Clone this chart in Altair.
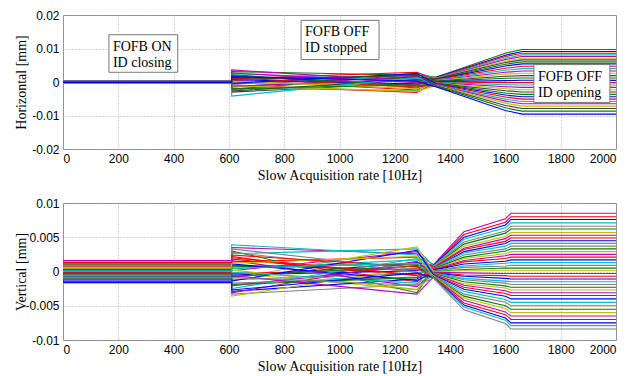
import altair as alt
import pandas as pd

# ---------------- axes ----------------
x_ticks = [0, 200, 400, 600, 800, 1000, 1200, 1400, 1600, 1800, 2000]
h_ticks = [-0.02, -0.01, 0, 0.01, 0.02]
v_ticks = [-0.01, -0.005, 0, 0.005, 0.01]
x_title = "Slow Acquisition rate [10Hz]"

# ---------------- Horizontal panel (30 BPMs) ----------------
# sample index at which each column of values is read
h_x = [0, 610, 610, 1280, 1350, 1600, 1660, 2000]
h_pre = [0.0002, -0.0001, 0.0003, 0.0000, -0.0002, 0.0001, -0.0003, 0.0002, 0.0000, -0.0001,
         0.0001, 0.0003, -0.0002, 0.0000, 0.0002, -0.0001, 0.0001, -0.0003, 0.0000, 0.0002,
         -0.0002, 0.0001, 0.0000, -0.0001, 0.0003, 0.0002, -0.0002, 0.0000, 0.0001, -0.0001]
h_band_a = [0.0031, -0.0012, 0.0005, -0.0025, 0.0017, 0.0001, -0.0030, 0.0022, -0.0006, 0.0010,
            -0.0018, 0.0036, -0.0002, 0.0014, -0.0022, 0.0007, -0.0009, 0.0025, -0.0015, 0.0003,
            -0.0027, 0.0019, -0.0004, 0.0012, -0.0042, 0.0027, -0.0011, 0.0008, -0.0020, 0.0016]
h_band_c = [0.0020, 0.0006, -0.0024, 0.0027, -0.0009, 0.0012, -0.0003, -0.0018, 0.0015, 0.0029,
            -0.0026, 0.0001, -0.0013, 0.0009, 0.0023, -0.0006, -0.0031, 0.0004, 0.0017, -0.0020,
            0.0007, -0.0011, 0.0025, -0.0015, 0.0013, -0.0002, -0.0028, 0.0019, -0.0008, 0.0003]
h_pinch = [0.0015, 0.0014, 0.0013, 0.0012, 0.0011, 0.0011, 0.0010, 0.0009, 0.0008, 0.0007,
           0.0006, 0.0005, 0.0004, 0.0003, 0.0002, 0.0001, 0.0000, -0.0001, -0.0002, -0.0003,
           -0.0004, -0.0005, -0.0006, -0.0007, -0.0008, -0.0009, -0.0010, -0.0011, -0.0013, -0.0015]
h_1600 = [0.0086, 0.0080, 0.0076, 0.0071, 0.0067, 0.0062, 0.0058, 0.0053, 0.0048, 0.0041,
          0.0035, 0.0029, 0.0023, 0.0017, 0.0011, 0.0004, -0.0002, -0.0008, -0.0014, -0.0020,
          -0.0026, -0.0033, -0.0039, -0.0045, -0.0051, -0.0057, -0.0063, -0.0070, -0.0077, -0.0085]
h_final = [0.0097, 0.0091, 0.0086, 0.0081, 0.0076, 0.0071, 0.0066, 0.0060, 0.0054, 0.0047,
           0.0040, 0.0033, 0.0026, 0.0019, 0.0012, 0.0005, -0.0002, -0.0009, -0.0016, -0.0023,
           -0.0030, -0.0037, -0.0044, -0.0051, -0.0058, -0.0065, -0.0072, -0.0079, -0.0087, -0.0096]
h_cols = [h_pre, h_pre, h_band_a, h_band_c, h_pinch, h_1600, h_final, h_final]

# ---------------- Vertical panel (40 BPMs) ----------------
v_x = [0, 610, 610, 1280, 1340, 1450, 1600, 1620, 2000]
v_pre = [0.0016, 0.0012, -0.0003, 0.0009, -0.0008, 0.0005, 0.0000, -0.0012, 0.0007, -0.0014,
         0.0003, -0.0005, 0.0010, -0.0017, 0.0001, 0.0006, -0.0002, 0.0014, -0.0010, 0.0004,
         -0.0006, 0.0008, -0.0001, 0.0002, -0.0009, 0.0011, -0.0004, 0.0005, -0.0015, 0.0003,
         -0.0007, 0.0000, 0.0009, -0.0011, 0.0006, -0.0003, 0.0013, -0.0016, 0.0001, -0.0008]
v_band_a = [0.0035, 0.0018, -0.0008, 0.0026, -0.0033, 0.0009, -0.0002, -0.0021, 0.0014, -0.0029,
            0.0004, -0.0012, 0.0030, -0.0036, 0.0001, 0.0022, -0.0005, 0.0039, -0.0017, 0.0007,
            -0.0010, 0.0016, -0.0003, 0.0011, -0.0025, 0.0028, -0.0007, 0.0002, -0.0031, 0.0020,
            -0.0014, -0.0001, 0.0033, -0.0019, 0.0012, -0.0006, 0.0024, -0.0027, 0.0005, -0.0009]
v_band_c = [0.0026, -0.0006, 0.0013, 0.0033, -0.0019, 0.0002, -0.0027, 0.0009, 0.0021, -0.0011,
            0.0017, -0.0003, -0.0031, 0.0006, 0.0029, -0.0015, 0.0001, 0.0024, -0.0008, 0.0011,
            0.0036, -0.0022, 0.0004, -0.0013, 0.0019, -0.0001, 0.0008, -0.0026, 0.0015, -0.0005,
            0.0031, -0.0017, 0.0003, -0.0009, 0.0022, -0.0033, 0.0007, -0.0002, 0.0012, -0.0020]
v_pinch = [0.0010, 0.0009, 0.0009, 0.0008, 0.0008, 0.0007, 0.0007, 0.0006, 0.0006, 0.0005,
           0.0005, 0.0004, 0.0004, 0.0003, 0.0003, 0.0002, 0.0002, 0.0001, 0.0001, 0.0000,
           0.0000, -0.0001, -0.0001, -0.0002, -0.0002, -0.0003, -0.0003, -0.0004, -0.0004, -0.0005,
           -0.0005, -0.0006, -0.0006, -0.0007, -0.0007, -0.0008, -0.0008, -0.0009, -0.0009, -0.0010]
v_1450 = [0.0058, 0.0054, 0.0050, 0.0047, 0.0043, 0.0040, 0.0037, 0.0034, 0.0032, 0.0029,
          0.0027, 0.0024, 0.0021, 0.0019, 0.0016, 0.0014, 0.0011, 0.0008, 0.0006, 0.0003,
          0.0001, -0.0002, -0.0005, -0.0007, -0.0010, -0.0012, -0.0015, -0.0018, -0.0020, -0.0023,
          -0.0026, -0.0029, -0.0033, -0.0036, -0.0039, -0.0042, -0.0046, -0.0049, -0.0052, -0.0056]
v_1600 = [0.0077, 0.0072, 0.0068, 0.0064, 0.0059, 0.0056, 0.0051, 0.0048, 0.0044, 0.0041,
          0.0037, 0.0033, 0.0030, 0.0026, 0.0023, 0.0019, 0.0015, 0.0012, 0.0008, 0.0005,
          0.0001, -0.0003, -0.0006, -0.0010, -0.0014, -0.0017, -0.0021, -0.0024, -0.0028, -0.0032,
          -0.0036, -0.0041, -0.0045, -0.0050, -0.0054, -0.0059, -0.0063, -0.0068, -0.0071, -0.0076]
v_final = [0.0085, 0.0080, 0.0076, 0.0071, 0.0066, 0.0062, 0.0057, 0.0053, 0.0049, 0.0045,
           0.0041, 0.0037, 0.0033, 0.0029, 0.0025, 0.0021, 0.0017, 0.0013, 0.0009, 0.0005,
           0.0001, -0.0003, -0.0007, -0.0011, -0.0015, -0.0019, -0.0023, -0.0027, -0.0031, -0.0035,
           -0.0040, -0.0045, -0.0050, -0.0055, -0.0060, -0.0065, -0.0070, -0.0075, -0.0079, -0.0084]
v_cols = [v_pre, v_pre, v_band_a, v_band_c, v_pinch, v_1450, v_1600, v_final, v_final]

# ---------------- annotations (top panel) ----------------
box_x1 = [166, 861, 1703]
box_x2 = [415, 1143, 1978]
box_y1 = [0.0029, 0.0067, -0.0061]
box_y2 = [0.0141, 0.0184, 0.0052]
box_text = ["FOFB ON\nID closing", "FOFB OFF\nID stopped", "FOFB OFF\nID opening"]

# MATLAB-like line colours
top_colors = ["#008000", "#0000ff", "#ff0000", "#00bfbf", "#bf00bf", "#bfbf00", "#404040"]
bot_colors = ["#bf00bf", "#ff0000", "#0000ff", "#00bfbf", "#808080", "#008000", "#bfbf00"]


def build(xs, cols):
    n = len(cols[0])
    rows = []
    for i in range(n):
        for k, (xv, col) in enumerate(zip(xs, cols)):
            rows.append({"trace": i, "k": k, "x": xv, "y": col[i]})
    return pd.DataFrame(rows), n


W = 553
SERIF = "Liberation Serif"
SANS = "Liberation Sans"


def panel(df, n, ticks, dom, ytitle, colors, H, boxes=None):
    xscale = alt.Scale(domain=[0, 2000], nice=False)
    yscale = alt.Scale(domain=dom, nice=False, zero=False)
    xaxis = alt.Axis(values=x_ticks, title=x_title, format="d", titlePadding=4)
    yaxis = alt.Axis(values=ticks, title=ytitle, labelExpr="toString(datum.value)",
                     titleX=-38, titleY=H / 2, titleBaseline="alphabetic")
    lines = alt.Chart(df).mark_line(strokeWidth=1.1, clip=True).encode(
        x=alt.X("x:Q", scale=xscale, axis=xaxis),
        y=alt.Y("y:Q", scale=yscale, axis=yaxis),
        color=alt.Color("trace:N", scale=alt.Scale(domain=list(range(n)), range=colors), legend=None),
        detail="trace:N",
        order="k:Q",
    )
    layers = [lines]
    if boxes is not None:
        rect = alt.Chart(boxes).mark_rect(fill="white", stroke="#777777", strokeWidth=1).encode(
            x=alt.X("x1:Q", scale=xscale, axis=xaxis), x2="x2:Q",
            y=alt.Y("y1:Q", scale=yscale, axis=yaxis), y2="y2:Q")
        txt = alt.Chart(boxes).mark_text(font=SERIF, fontSize=14, align="left", baseline="alphabetic",
                                         dx=4, dy=16, lineBreak="\n", lineHeight=16, color="black").encode(
            x=alt.X("x1:Q", scale=xscale, axis=xaxis),
            y=alt.Y("y2:Q", scale=yscale, axis=yaxis),
            text="label:N")
        layers += [rect, txt]
    return alt.layer(*layers).properties(width=W, height=H)


h_df, h_n = build(h_x, h_cols)
v_df, v_n = build(v_x, v_cols)
boxes = pd.DataFrame({"x1": box_x1, "x2": box_x2, "y1": box_y1, "y2": box_y2, "label": box_text})

top = panel(h_df, h_n, h_ticks, [-0.02, 0.02], "Horizontal [mm]", top_colors, 134, boxes)
bottom = panel(v_df, v_n, v_ticks, [-0.01, 0.01], "Vertical [mm]", bot_colors, 137)

chart = alt.vconcat(top, bottom, spacing=13).resolve_scale(color="independent").properties(
    padding={"left": 5, "top": 0, "right": 0, "bottom": 0}
).configure_view(stroke="#888888", strokeWidth=1).configure_axis(
    labelFont=SANS, labelFontSize=12, labelColor="black", labelPadding=4,
    titleFont=SERIF, titleFontSize=14, titleFontWeight="normal", titleColor="black",
    grid=True, gridColor="#aaaaaa", gridDash=[1, 2], gridWidth=1,
    ticks=False, domain=False,
)

chart.save("out.html", embed_options={"renderer": "svg", "actions": False})
